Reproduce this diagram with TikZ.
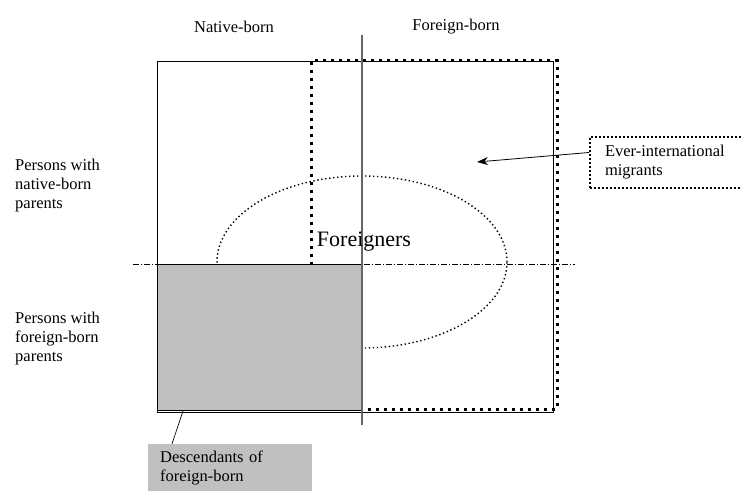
\documentclass[tikz,border=0pt]{standalone}
\usepackage{fontspec}
\setmainfont{Liberation Serif}
\usetikzlibrary{positioning,arrows.meta}
\definecolor{shade}{HTML}{C0C0C0}

\begin{document}
\begin{tikzpicture}[
      x=1pt, y=1pt,
      font=\fontsize{16.5}{19}\selectfont,
      lbl/.style={align=left, inner sep=0pt, anchor=west},
      bolddots/.style={line width=3pt, dash pattern=on 3pt off 5pt},
      finedots/.style={line width=1.4pt, dash pattern=on 1.4pt off 2.6pt},
      arrow/.style={-{Stealth[length=11pt,width=8pt]}, line width=0.8pt}
      ]
      \useasboundingbox (0,0) rectangle (741,491);
      % Ueberschriften
      \node (native) at (234,464) {Native-born};
      \node (foreign) at (456,464) {Foreign-born};
      \node[lbl] (nparents) at (15,305) {Persons with\\native-born\\parents};
      \node[lbl] (fparents) at (15,152) {Persons with\\foreign-born\\parents};

      % Rahmen und Ellipse
      \draw[line width=0.9pt] (157,79) rectangle (553,430);
      \draw[finedots] (362,229) ellipse (145 and 86);
      \draw[bolddots] (311,82) rectangle (557,430);
      \draw[fill=shade, line width=0.8pt] (157,81) rectangle (362,227);
      \draw[line width=0.7pt, dash pattern=on 6pt off 2pt on 1pt off 2pt] (133,227) -- (575,227);
      \draw[line width=1.1pt, black!60] (362,66) -- (362,456);
      \node[font=\fontsize{22}{26}\selectfont] (foreigners) at (364,249) {Foreigners};

      % Beschriftungen mit Pfeil
      \node[draw, finedots, line width=2pt, dash pattern=on 2pt off 2pt, lbl, text width=140pt, minimum height=51pt, inner xsep=15pt] (ever) at (589,328.5) {Ever-international\\migrants};
      \coordinate (tip) at (477,329);
      \draw[arrow] ([yshift=10pt]ever.west) -- (tip);
      \node[fill=shade, lbl, text width=140pt, minimum height=47pt, inner xsep=12pt] (desc) at (148,23.5) {Descendants of\\foreign-born};
      \coordinate (descend) at (183,80);
      \draw[line width=0.7pt] ([xshift=24pt]desc.north west) -- (descend);
\end{tikzpicture}
\end{document}
